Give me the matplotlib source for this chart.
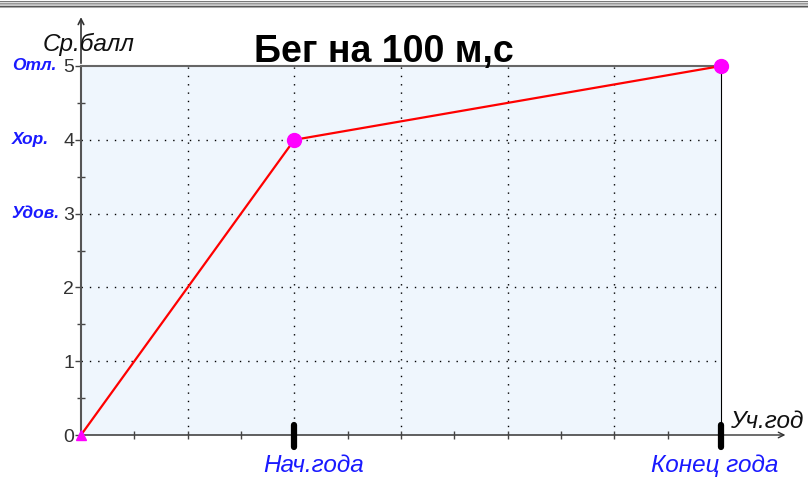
import matplotlib.pyplot as plt
from matplotlib.lines import Line2D
from matplotlib.transforms import ScaledTranslation

# data
x_points = [0, 2, 6]
scores = [0, 4, 5]
x_labels = ["", "", "Нач.года", "", "", "", "Конец года"]
y_ticks = [0, 1, 2, 3, 4, 5]
grade_names = {5: "Отл.", 4: "Хор.", 3: "Удов."}

plt.rcParams['font.family'] = ['Liberation Sans', 'DejaVu Sans']

fig = plt.figure(figsize=(8.08, 4.79), dpi=100)
W, H = 808, 479
ax = fig.add_axes([81 / W, (H - 435) / H, 640 / W, (435 - 66) / H])
ax.set_facecolor("#eff6fd")

# window chrome strip at the very top
for yy, c in [(0.5, "#777777"), (1.5, "#dddddd"), (2.5, "#999999"),
              (3.5, "#bbbbbb"), (4.5, "#cccccc"), (5.5, "#555555"), (6.5, "#aaaaaa")]:
    fig.add_artist(Line2D([0, 1], [1 - yy / H, 1 - yy / H], color=c, lw=0.75,
                          transform=fig.transFigure))

ax.set_xlim(0, 6)
ax.set_ylim(0, 5)

# dotted grid
for gx in range(1, 6):
    ax.axvline(gx, color="black", lw=1, ls=(0, (1, 5)), zorder=1)
for gy in range(1, 5):
    ax.axhline(gy, color="black", lw=1, ls=(0, (1, 5)), zorder=1)

ax.plot(x_points, scores, color="red", lw=1.6, zorder=3)
ax.plot(x_points[1:], scores[1:], "o", color="magenta", ms=10, zorder=4, clip_on=False)
ax.plot(x_points[:1], scores[:1], "^", color="magenta", ms=7, zorder=4, clip_on=False)

# spines
ax.spines["left"].set_color("#555555")
ax.spines["left"].set_linewidth(1.5)
ax.spines["top"].set_color("#666666")
ax.spines["top"].set_linewidth(1.5)
ax.spines["bottom"].set_color("#444444")
ax.spines["bottom"].set_linewidth(1.2)
ax.spines["right"].set_color("black")
ax.spines["right"].set_linewidth(0.8)

# ticks
ax.set_yticks(y_ticks)
ax.set_yticklabels([str(v) for v in y_ticks], fontsize=14, color="#333333")
ax.set_yticks([v + 0.5 for v in y_ticks[:-1]], minor=True)
ax.tick_params(axis="y", which="major", direction="out", length=4, width=1, color="#444444", pad=1)
ax.tick_params(axis="y", which="minor", direction="inout", length=6, width=1, color="#444444")

ax.set_xticks(range(7))
ax.set_xticklabels(x_labels, fontsize=17.5, color="#1a1aff", style="italic")
ax.set_xticks([v + 0.5 for v in range(6)], minor=True)
ax.tick_params(axis="x", which="major", direction="inout", length=6, width=1, color="#444444", pad=11)
ax.tick_params(axis="x", which="minor", direction="inout", length=6, width=1, color="#444444")

# the labels sit a little off their ticks in the original
xlbls = ax.get_xticklabels()
for idx, dx in ((2, 19), (6, -6)):
    xlbls[idx].set_transform(xlbls[idx].get_transform() +
                             ScaledTranslation(dx / 100, 0, fig.dpi_scale_trans))

# thick black markers under the two labelled points
for mx in (2, 6):
    ax.plot([mx, mx], [0.027, -0.032], color="black", lw=4.5, solid_capstyle="round",
            transform=ax.get_xaxis_transform(), clip_on=False, zorder=5)

# grade names beside y ticks
for val, name in grade_names.items():
    ax.text(-0.108, val, name, transform=ax.get_yaxis_transform(), ha="left", va="center",
            fontsize=12.5, color="#1a1aff", style="italic", fontweight="bold")

# axis arrows
ax.annotate("", xy=(0, 1.14), xytext=(0, 1.0), xycoords="axes fraction",
            arrowprops=dict(arrowstyle="->", color="#333333", lw=1.2))
ax.annotate("", xy=(1.105, 0), xytext=(1.0, 0), xycoords="axes fraction",
            arrowprops=dict(arrowstyle="->", color="#333333", lw=1.0))

ax.text(-0.06, 1.041, "Ср.балл", transform=ax.transAxes, fontsize=17.5, style="italic",
        ha="left", va="baseline", color="#111111")
ax.text(1.014, 0.019, "Уч.год", transform=ax.transAxes, fontsize=17.5, style="italic",
        ha="left", va="baseline", color="#111111")
ax.text(0.473, 1.011, "Бег на 100 м,с", transform=ax.transAxes, fontsize=27, fontweight="bold",
        ha="center", va="baseline", color="black")

fig.savefig("out.png", dpi=100)
